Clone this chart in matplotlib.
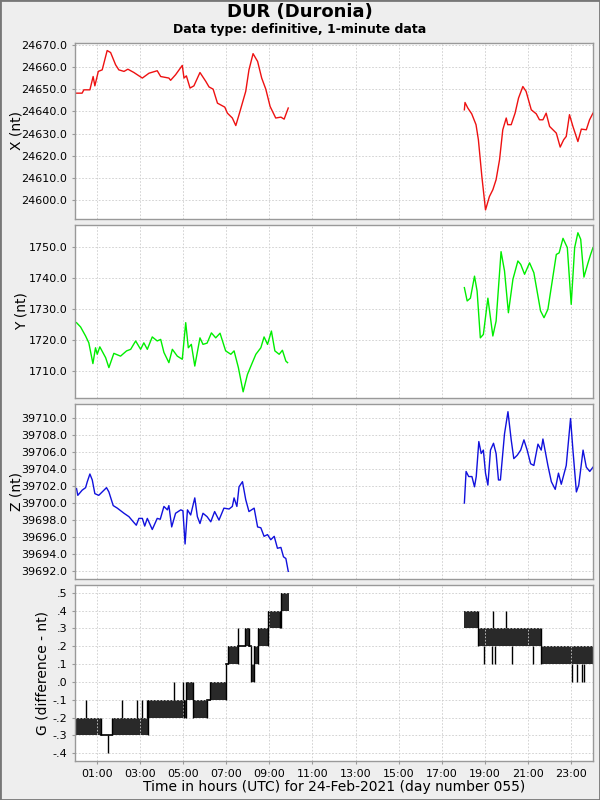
import matplotlib
matplotlib.use("Agg")
import matplotlib.pyplot as plt
import matplotlib.ticker as mticker
import numpy as np

# hours (UTC) and values, two chunks (gap 09:53 - 18:00)
x_t_am = [0.04, 0.33, 0.41, 0.69, 0.84, 0.92, 1.08, 1.26, 1.49, 1.65, 1.88, 2.03, 2.27, 2.45, 2.73,
          3.12, 3.43, 3.81, 3.97, 4.35, 4.43, 4.66, 4.97, 5.05, 5.16, 5.33, 5.51, 5.79, 6.06, 6.21,
          6.40, 6.60, 6.94, 7.06, 7.29, 7.45, 7.60, 7.91, 8.06, 8.25, 8.46, 8.65, 8.84, 9.04, 9.30,
          9.54, 9.69, 9.88]
x_v_am = [24648.2, 24648.2, 24649.7, 24649.7, 24655.7, 24651.5, 24658.0, 24658.7, 24667.4, 24666.5,
          24661.0, 24658.7, 24658.0, 24659.0, 24657.5, 24655.0, 24657.2, 24658.3, 24655.7, 24655.0,
          24654.0, 24656.5, 24660.7, 24655.0, 24656.0, 24650.5, 24651.5, 24657.5, 24653.5, 24651.0,
          24650.0, 24643.7, 24641.9, 24639.2, 24637.0, 24633.6, 24638.5, 24649.0, 24658.7, 24666.0,
          24662.5, 24655.0, 24650.0, 24642.2, 24637.0, 24637.4, 24636.5, 24641.5]
x_t_pm = [18.04, 18.07, 18.20, 18.38, 18.58, 18.69, 18.85, 19.02, 19.20, 19.36, 19.51, 19.67, 19.82,
          19.98, 20.05, 20.21, 20.39, 20.55, 20.75, 20.90, 21.14, 21.37, 21.52, 21.68, 21.83, 21.99,
          22.30, 22.48, 22.64, 22.76, 22.91, 23.07, 23.30, 23.46, 23.69, 23.84, 24.00]
x_v_pm = [24640.7, 24644.0, 24641.5, 24638.9, 24634.0, 24627.2, 24610.7, 24595.6, 24601.6, 24604.7,
          24609.2, 24618.2, 24631.7, 24637.0, 24634.0, 24634.0, 24639.2, 24646.0, 24651.2, 24649.0,
          24640.7, 24638.9, 24636.2, 24636.2, 24639.2, 24633.2, 24630.2, 24623.9, 24627.2, 24628.7,
          24638.5, 24633.2, 24626.4, 24632.0, 24631.7, 24636.2, 24639.2]

y_t_am = [0.07, 0.26, 0.49, 0.64, 0.83, 0.95, 1.03, 1.15, 1.42, 1.57, 1.80, 2.11, 2.39, 2.58, 2.81,
          3.04, 3.19, 3.35, 3.58, 3.81, 3.97, 4.12, 4.35, 4.51, 4.74, 4.97, 5.13, 5.25, 5.39, 5.55,
          5.79, 5.93, 6.12, 6.32, 6.52, 6.72, 6.98, 7.22, 7.37, 7.57, 7.79, 7.99, 8.18, 8.38, 8.61,
          8.76, 8.92, 9.10, 9.26, 9.46, 9.61, 9.77, 9.85]
y_v_am = [1725.6, 1724.2, 1721.3, 1719.1, 1712.4, 1717.5, 1715.4, 1717.8, 1714.3, 1711.1, 1715.7,
          1714.8, 1716.5, 1717.0, 1719.7, 1717.0, 1719.1, 1717.0, 1721.0, 1719.7, 1720.2, 1716.0,
          1712.7, 1717.0, 1714.8, 1713.8, 1725.6, 1717.5, 1718.6, 1711.6, 1720.7, 1718.6, 1719.0,
          1722.3, 1720.7, 1722.2, 1716.5, 1715.4, 1716.5, 1711.1, 1703.3, 1708.9, 1712.1, 1715.4,
          1717.5, 1721.0, 1718.6, 1722.9, 1716.5, 1715.4, 1716.7, 1713.2, 1712.7]
y_t_pm = [18.04, 18.17, 18.32, 18.51, 18.63, 18.78, 18.92, 19.13, 19.36, 19.51, 19.74, 19.90, 20.08,
          20.29, 20.52, 20.65, 20.83, 21.06, 21.26, 21.57, 21.73, 21.91, 22.30, 22.43, 22.61, 22.81,
          22.99, 23.15, 23.30, 23.43, 23.58, 23.77, 23.89, 24.00]
y_v_pm = [1736.9, 1732.6, 1733.5, 1740.6, 1735.8, 1720.7, 1721.8, 1733.5, 1721.3, 1726.1, 1748.5,
          1742.3, 1728.8, 1739.6, 1745.5, 1744.4, 1741.2, 1744.9, 1741.7, 1729.4, 1727.2, 1729.9,
          1747.6, 1748.1, 1752.8, 1749.8, 1731.5, 1749.8, 1754.6, 1752.5, 1740.3, 1744.9, 1747.6,
          1749.8]

z_t_am = [0.07, 0.13, 0.33, 0.49, 0.57, 0.69, 0.80, 0.92, 1.10, 1.26, 1.46, 1.57, 1.77, 1.96, 2.27,
          2.50, 2.70, 2.84, 2.96, 3.12, 3.23, 3.35, 3.58, 3.81, 3.95, 4.12, 4.28, 4.35, 4.48, 4.66,
          4.90, 5.00, 5.10, 5.21, 5.36, 5.55, 5.67, 5.79, 5.93, 6.12, 6.29, 6.47, 6.67, 6.90, 7.14,
          7.29, 7.37, 7.50, 7.60, 7.76, 7.91, 8.06, 8.30, 8.46, 8.61, 8.76, 8.92, 9.07, 9.23, 9.38,
          9.54, 9.66, 9.77, 9.88]
z_v_am = [39701.7, 39700.9, 39701.5, 39701.8, 39702.5, 39703.4, 39702.7, 39701.1, 39700.9, 39701.3,
          39701.8, 39701.3, 39699.7, 39699.4, 39698.8, 39698.4, 39697.8, 39697.4, 39698.2, 39698.2,
          39697.3, 39698.2, 39696.9, 39698.2, 39698.1, 39699.6, 39699.2, 39699.7, 39697.2, 39698.8,
          39699.2, 39699.1, 39695.2, 39699.2, 39698.6, 39700.6, 39698.4, 39697.6, 39698.8, 39698.4,
          39697.8, 39699.0, 39698.0, 39699.4, 39699.3, 39699.6, 39700.6, 39699.6, 39701.9, 39702.5,
          39700.4, 39699.0, 39699.4, 39697.2, 39697.1, 39696.1, 39696.3, 39695.7, 39696.1, 39694.7,
          39694.8, 39693.7, 39693.5, 39692.0]
z_t_pm = [18.04, 18.12, 18.24, 18.39, 18.51, 18.59, 18.71, 18.82, 18.92, 19.02, 19.13, 19.25, 19.39,
          19.51, 19.62, 19.71, 19.90, 20.06, 20.21, 20.33, 20.49, 20.65, 20.80, 20.95, 21.11, 21.26,
          21.45, 21.60, 21.68, 21.91, 22.07, 22.25, 22.40, 22.53, 22.76, 22.96, 23.07, 23.23, 23.34,
          23.54, 23.69, 23.85, 24.00]
z_v_pm = [39700.0, 39703.7, 39703.1, 39703.1, 39701.9, 39703.1, 39707.2, 39705.8, 39706.2, 39703.5,
          39702.1, 39706.2, 39707.0, 39705.8, 39702.7, 39702.7, 39708.1, 39710.7, 39707.4, 39705.2,
          39705.6, 39706.2, 39707.4, 39706.2, 39704.6, 39704.4, 39706.9, 39706.2, 39707.5, 39704.4,
          39702.5, 39701.6, 39703.5, 39702.2, 39704.4, 39709.9, 39706.2, 39701.3, 39702.1, 39706.2,
          39704.2, 39703.7, 39704.2]

# G: 1-minute values flip between two 0.1 levels -> (start h, end h, low, high)
g_bands = [(0.00, 1.20, -0.3, -0.2), (1.20, 1.70, -0.3, -0.3), (1.70, 3.40, -0.3, -0.2),
           (3.40, 5.13, -0.2, -0.1), (5.13, 5.48, -0.1, 0.0), (5.48, 6.13, -0.2, -0.1),
           (6.13, 6.25, -0.1, -0.1), (6.25, 6.98, -0.1, 0.0), (6.98, 7.10, 0.1, 0.1),
           (7.10, 7.55, 0.1, 0.2), (7.55, 7.86, 0.2, 0.2), (7.86, 8.05, 0.2, 0.3),
           (8.05, 8.14, 0.2, 0.2), (8.14, 8.30, 0.0, 0.1), (8.30, 8.50, 0.1, 0.2),
           (8.50, 8.94, 0.2, 0.3), (8.94, 9.54, 0.3, 0.4), (9.54, 9.91, 0.4, 0.5),
           (18.01, 18.66, 0.3, 0.4), (18.66, 21.60, 0.2, 0.3), (21.60, 24.00, 0.1, 0.2)]
# single-minute excursions (h, low, high)
g_spikes = [(0.53, -0.2, -0.1), (1.54, -0.4, -0.3), (2.19, -0.2, -0.1), (2.88, -0.2, -0.1),
            (3.12, -0.2, -0.1), (3.35, -0.2, -0.1), (4.60, -0.1, 0.0), (5.00, -0.1, 0.0),
            (5.03, -0.2, -0.1), (7.56, 0.2, 0.3), (9.50, 0.3, 0.4),
            (18.97, 0.1, 0.2), (19.30, 0.1, 0.2), (19.37, 0.3, 0.4), (19.47, 0.1, 0.2),
            (19.99, 0.3, 0.4), (20.23, 0.1, 0.2), (21.20, 0.1, 0.2),
            (23.05, 0.0, 0.1), (23.24, 0.0, 0.1), (23.50, 0.0, 0.1), (23.60, 0.0, 0.1)]

hour_ticks = list(range(1, 24, 2))
hour_labels = ["%02d:00" % h for h in hour_ticks]

BG = "#eeeeee"
fig = plt.figure(figsize=(6, 8), dpi=100, facecolor=BG)
fig.patches.append(plt.Rectangle((0, 0), 1, 1, transform=fig.transFigure,
                                 fill=False, edgecolor="#777777", lw=2))

fig.text(0.5, 1 - 12 / 800, "DUR (Duronia)", ha="center", va="center",
         fontsize=13, fontweight="bold")
fig.text(0.5, 1 - 30 / 800, "Data type: definitive, 1-minute data", ha="center",
         va="center", fontsize=9, fontweight="bold")

# panel boxes in pixels (top, bottom)
boxes = [(43, 219), (225, 398), (404, 579), (585, 761)]
L, R = 75, 593


def make_ax(top, bot):
    ax = fig.add_axes([L / 600, 1 - bot / 800, (R - L) / 600, (bot - top) / 800])
    ax.set_facecolor("white")
    for s in ax.spines.values():
        s.set_color("#999999")
        s.set_linewidth(1)
    ax.set_xlim(0, 24)
    ax.set_xticks(hour_ticks)
    ax.grid(True, color="#cccccc", linestyle=(0, (2, 2)), linewidth=0.6)
    ax.tick_params(axis="both", length=2, color="#999999", labelsize=8)
    return ax


ax1 = make_ax(*boxes[0])
ax1.plot(x_t_am, x_v_am, color="#ee1111", lw=1)
ax1.plot(x_t_pm, x_v_pm, color="#ee1111", lw=1)
ax1.set_ylim(24591.5, 24670.8)
ax1.set_yticks(np.arange(24600, 24671, 10))
ax1.yaxis.set_major_formatter(mticker.FormatStrFormatter("%.1f"))
ax1.set_ylabel("X (nt)", fontsize=10)

ax2 = make_ax(*boxes[1])
ax2.plot(y_t_am, y_v_am, color="#00ee00", lw=1)
ax2.plot(y_t_pm, y_v_pm, color="#00ee00", lw=1)
ax2.set_ylim(1701.3, 1757.1)
ax2.set_yticks(np.arange(1710, 1751, 10))
ax2.yaxis.set_major_formatter(mticker.FormatStrFormatter("%.1f"))
ax2.set_ylabel("Y (nt)", fontsize=10)

ax3 = make_ax(*boxes[2])
ax3.plot(z_t_am, z_v_am, color="#1111dd", lw=1)
ax3.plot(z_t_pm, z_v_pm, color="#1111dd", lw=1)
ax3.set_ylim(39691.1, 39711.6)
ax3.set_yticks(np.arange(39692, 39711, 2))
ax3.yaxis.set_major_formatter(mticker.FormatStrFormatter("%.1f"))
ax3.set_ylabel("Z (nt)", fontsize=10)

ax4 = make_ax(*boxes[3])
for t0, t1, lo, hi in g_bands:
    if hi > lo:
        ax4.fill_between([t0, t1], lo, hi, color="#111111", alpha=0.9, lw=0)
    else:
        ax4.plot([t0, t1], [lo, lo], color="black", lw=1.2)
# connect consecutive bands
for (a0, a1, alo, ahi), (b0, b1, blo, bhi) in zip(g_bands[:-1], g_bands[1:]):
    if abs(a1 - b0) < 0.05:
        ax4.vlines(a1, min(alo, blo), max(ahi, bhi), color="black", lw=1)
for t, lo, hi in g_spikes:
    ax4.vlines(t, lo, hi, color="black", lw=1)
ax4.set_ylim(-0.443, 0.543)
ax4.set_yticks(np.round(np.arange(-0.4, 0.51, 0.1), 1))


def g_fmt(v, pos):
    s = "%.1f" % (round(v, 1) + 0.0)
    if s == "-0.0":
        s = "0.0"
    return s.replace("0.", ".", 1)


ax4.yaxis.set_major_formatter(mticker.FuncFormatter(g_fmt))
ax4.set_ylabel("G (difference - nt)", fontsize=10)
ax4.set_xticklabels(hour_labels)
ax4.set_xlabel("Time in hours (UTC) for 24-Feb-2021 (day number 055)", fontsize=10, labelpad=1)

for ax in (ax1, ax2, ax3):
    ax.tick_params(axis="x", labelbottom=False, length=0)

# label x positions (right edge of rotated text) in pixels
label_px = [24, 29, 23, 49]
for ax, px in zip((ax1, ax2, ax3, ax4), label_px):
    ax.yaxis.set_label_coords((px - L) / (R - L), 0.5)

fig.savefig("out.png", dpi=100, facecolor=BG)
